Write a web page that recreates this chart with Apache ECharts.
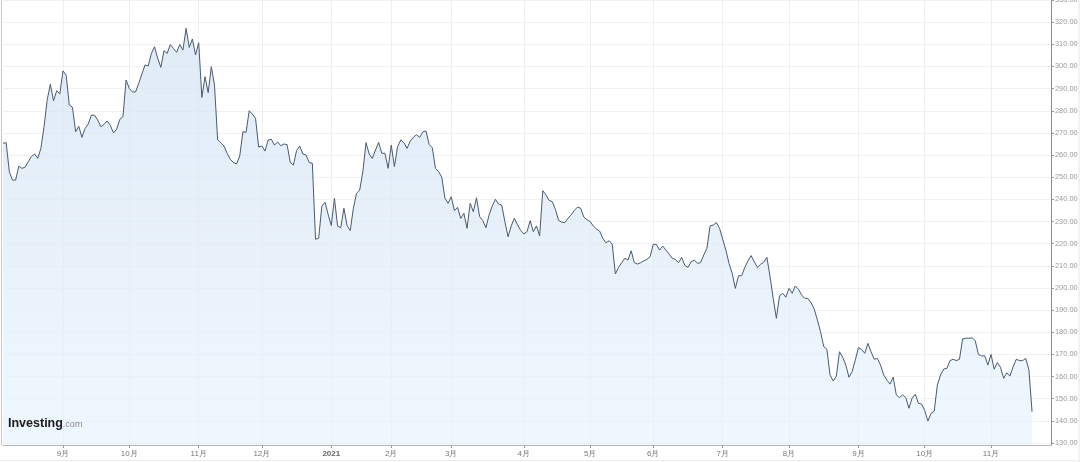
<!DOCTYPE html>
<html>
<head>
<meta charset="utf-8">
<script src="https://cdn.jsdelivr.net/npm/echarts@6/dist/echarts.min.js"></script>
<style>
html,body{margin:0;padding:0;background:#fff;}
#chart{width:1080px;height:462px;}
</style>
</head>
<body>
<div id="chart"></div>
<script>
// Daily closes (trading days from 2020-08-05 to 2021-11-18)
const closes2020a = [265.3,265.6,252.5,248.7,248.7,255,254,254.5,257,259.3,
  260.5,258.5,263,272.8,284.9,292,284.5,289,287.6,298,
  296.1,282.6,281.6,270.5,273,268,272,274,278,278,
  275.8,272.8,273.9,275.4,273.4,270,271.6,276.1,277.3,293.9,
  290.1,288.5,288.5,292.4,296.6,300.7,300.2,305.9,308.9,303.7,
  299.6,307.1,305.9,309.9,308.1,306.4,309.9,307.4,317.2,308.6];
const closes2020b = [312.4,305.2,310.7,286,295.4,288.2,299.9,291.6,266.8,265.6,
  264.1,260.8,258.1,256.6,256,259.6,270.5,270.3,280,278.5,
  276.6,263.6,264.1,261.8,266.8,267.1,264.5,265.9,264.2,265,
  264.7,256.7,255.5,262,264.1,260.5,260,256.6,256.3,222,
  222.4,236.9,238.7,233.2];
const closes2021a = [228.2,240.5,227.9,227.2,236,228.2,
  225.9,236,242.7,244.2,252.5,265.6,260.5,258.5,262.3,265.7,
  260.8,260.8,254,264.5,254.8,263.8,266.8,265.6,263,266.3,
  268,269.2,268,270.5,270.9,264.8,263.3,254,252.5,250,
  240.5,238.2,241.2,234.9,236.4,231.4,233.7,226.9,238.2,234.4,
  240.7,232.2,230.4,227.2,233,237,240,237.9,237.4,229.9,
  223.1,228,231.5,228.5,226,224.4,225.4,230.4,225.4,228,
  223.5,243.9,242,239.5,239,235.5,230.5,229.7,229.5,231.5,
  233,235,236.5,236,232,230.8,230,228,226.6,225.7];
const closes2021b = [222.5,220.4,221.3,219.8,206.3,209.3,211.4,213.4,212.6,216.8,
  211.4,210.8,211.4,212.2,212.9,214.1,219.7,219.7,217.1,218.9,
  217.1,215.3,213.4,212.9,211.4,213.8,210.2,209.3,211.8,212.6,
  211.1,211.4,214.9,217.9,228,228.4,229.5,226.9,222,217.1,
  211.1,206.6,199.8,205.5,205.5,209.3,212.2,214.6,211.8,209.3,
  210.7,211.6,213.8,205.1,195.3,186.3,196.4,197.6,195.8,199.8];
const closes2021c = [197.6,200.9,199.4,196.8,195.3,195.3,193.3,190.4,185.5,180.2,
  173.5,172.3,160.7,158,160.2,171.2,168.7,165.2,159.7,162.2,
  167.5,173,172.3,170.5,175,171.2,167.8,168.2,165.2,160.7,
  158.4,156.6,159.7,151.7,150.5,151.7,150.5,145.7,150.2,152.1,
  147.9,147.6,144.6,139.9,143.4,144.4,156.2,160.7,163.4,163.7,
  167.2,167.8,167.2,167.8,177,177.3,177.3,177.5,176.2,170,
  169.3,169.4,165.2,170,163.3,166.3,164.2,159.2,161.7,160.2,
  164.4,167.8,167.2,167.2,168.2,163,144.1];

const yTickValues = [130,140,150,160,170,180,190,200,210,220,230,240,250,260,270,280,290,300,310,320,330];
const marketHolidays = ['2020-09-07','2020-11-26','2020-12-25','2021-01-01','2021-01-18','2021-02-15',
  '2021-04-02','2021-05-31','2021-07-05','2021-09-06','2021-11-25'];
const startDate = '2020-08-05';
const totalSlots = 333; // axis runs a few trading days past the last close

function tradingDays(start, n) {
  const out = [];
  const d = new Date(start + 'T00:00:00Z');
  while (out.length < n) {
    const w = d.getUTCDay();
    const s = d.toISOString().slice(0, 10);
    if (w !== 0 && w !== 6 && marketHolidays.indexOf(s) < 0) out.push(s);
    d.setUTCDate(d.getUTCDate() + 1);
  }
  return out;
}

const closes = [].concat(closes2020a, closes2020b, closes2021a, closes2021b, closes2021c);
const dates = tradingDays(startDate, totalSlots);
const monthStart = dates.map((s, i) => i > 0 && s.slice(5, 7) !== dates[i - 1].slice(5, 7));
const isMonthStart = (idx) => monthStart[idx];

const chart = echarts.init(document.getElementById('chart'), null, {renderer: 'canvas'});
const option = {
  animation: false,
  backgroundColor: '#ffffff',
  grid: {left: 3, right: 29, top: 0, height: 445, containLabel: false, outerBoundsMode: 'none'},
  xAxis: {
    type: 'category',
    data: dates,
    boundaryGap: false,
    axisLine: {show: true, lineStyle: {color: '#b8b8b8', width: 1}},
    axisTick: {show: true, interval: isMonthStart, length: 3, lineStyle: {color: '#999'}},
    axisLabel: {
      interval: isMonthStart,
      margin: 5,
      fontSize: 8,
      color: '#777',
      fontFamily: 'Liberation Sans, Arial, sans-serif',
      formatter: function (v) {
        const m = v.slice(5, 7);
        if (m === '01') return '{y|' + v.slice(0, 4) + '}';
        return parseInt(m, 10) + '月';
      },
      rich: {y: {fontSize: 8, fontWeight: 'bold', color: '#666', fontFamily: 'Liberation Sans, Arial, sans-serif'}}
    },
    splitLine: {show: true, interval: isMonthStart, lineStyle: {color: '#efefef', width: 1}}
  },
  yAxis: {
    type: 'value',
    position: 'right',
    min: 129.1,
    max: 330,
    axisLine: {show: true, lineStyle: {color: '#8c8c8c', width: 1}},
    axisTick: {show: true, length: 3, customValues: yTickValues, lineStyle: {color: '#999'}},
    axisLabel: {
      customValues: yTickValues,
      margin: 4,
      fontSize: 7.4,
      color: '#999',
      fontFamily: 'Liberation Sans, Arial, sans-serif',
      formatter: (v) => Number(v).toFixed(2)
    },
    splitLine: {show: true, lineStyle: {color: '#f1f1f1', width: 1}}
  },
  series: [{
    type: 'line',
    data: closes,
    symbol: 'none',
    smooth: false,
    lineStyle: {color: '#4b5a70', width: 1},
    areaStyle: {
      color: new echarts.graphic.LinearGradient(0, 0, 0, 1, [
        {offset: 0, color: '#d3e2f2'},
        {offset: 1, color: '#e9f4fe'}
      ])
    }
  }],
  graphic: [
    {type: 'line', shape: {x1: 1.5, y1: 0, x2: 1.5, y2: 445}, style: {stroke: '#c8c8c8', lineWidth: 1}, z: 10},
    {type: 'line', shape: {x1: 0, y1: 460.5, x2: 1080, y2: 460.5}, style: {stroke: '#ececec', lineWidth: 1}, z: 10},
    {type: 'rect', shape: {x: 1078.5, y: 0, width: 1.5, height: 462}, style: {fill: '#f0f0f0'}, z: -1},
    {
      type: 'text', left: 8, top: 417, z: 20,
      style: {
        text: '{a|Investing}{b|.com}',
        rich: {
          a: {fontSize: 12.5, fontWeight: 'bold', fill: '#1b1b1b', fontFamily: 'Liberation Sans, Arial, sans-serif'},
          b: {fontSize: 9, fill: '#8a8a8a', fontFamily: 'Liberation Sans, Arial, sans-serif', padding: [3, 0, 0, 0]}
        }
      }
    }
  ]
};
chart.setOption(option);
</script>
</body>
</html>
